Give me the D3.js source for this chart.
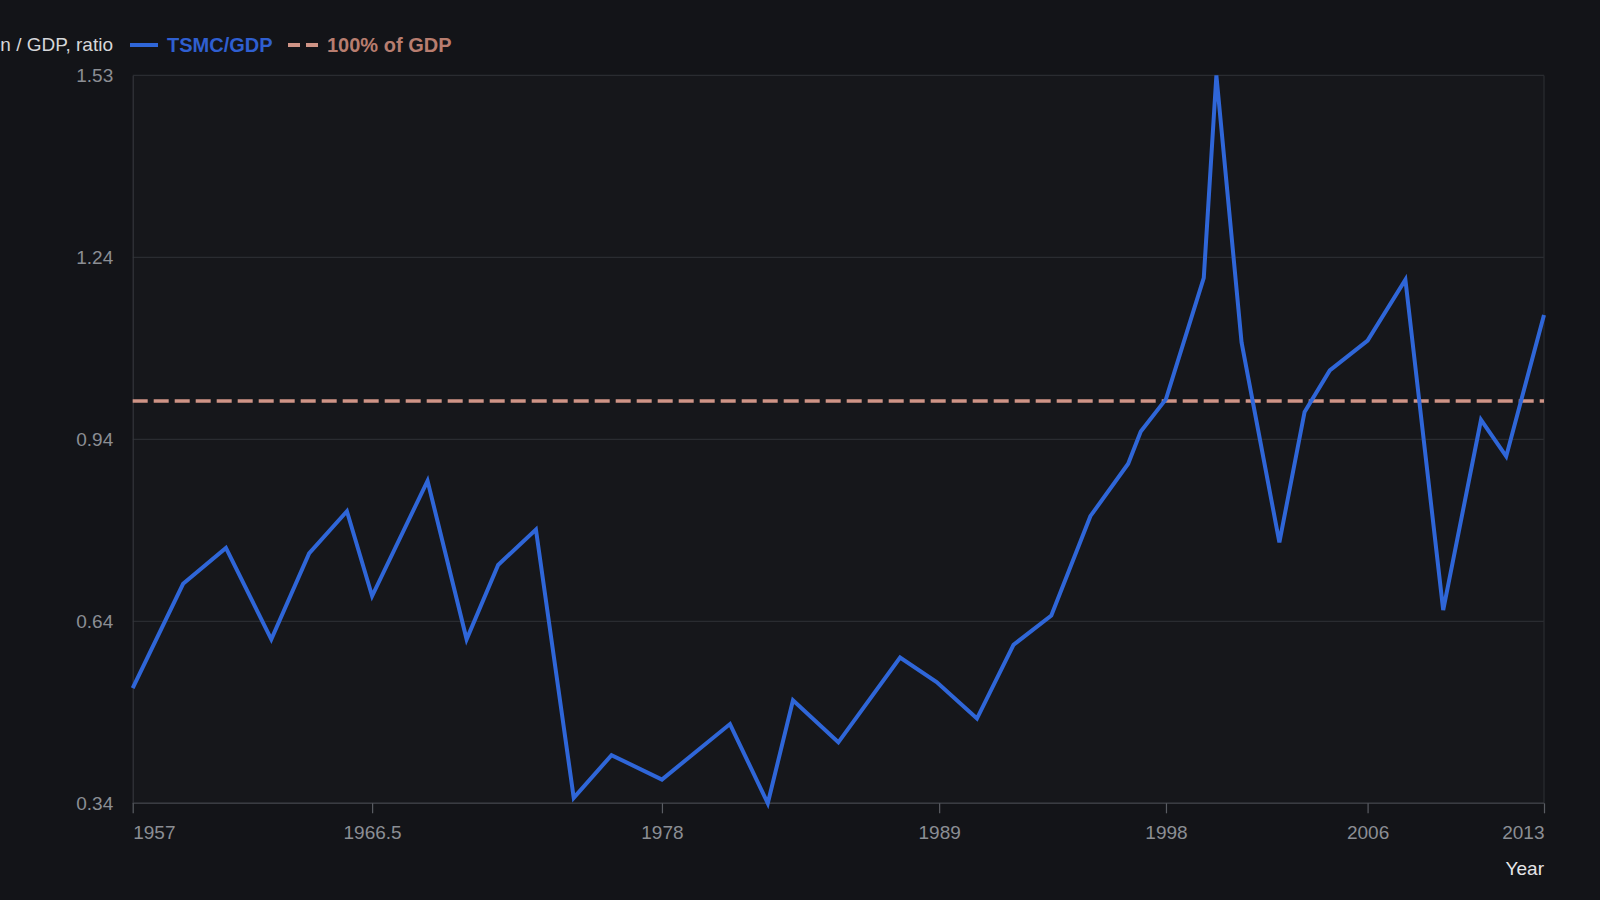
<!DOCTYPE html>
<html>
<head>
<meta charset="utf-8">
<script src="https://cdn.jsdelivr.net/npm/d3@7"></script>
<style>
  html, body { margin: 0; padding: 0; background: #131418; }
  svg { display: block; }
  text { font-family: "Liberation Sans", Arial, Helvetica, sans-serif; }
</style>
</head>
<body>
<svg id="chart" width="1600" height="900"></svg>
<script>
// ---- data ----
const years = [1957, 1959, 1960.7, 1962.5, 1964, 1965.5, 1966.5, 1968.7, 1970.25, 1971.5,
  1973, 1974.5, 1976, 1978, 1980.7, 1982.2, 1983.2, 1985, 1987.45, 1988.9,
  1990.5, 1991.95, 1993.45, 1995, 1996.5, 1997, 1998, 1999.5, 2000, 2001,
  2002.5, 2003.5, 2004.5, 2006, 2007.5, 2009, 2010.5, 2011.5, 2013];
const tsmcGdp = [0.529, 0.700, 0.759, 0.609, 0.750, 0.819, 0.680, 0.869, 0.609, 0.731,
  0.789, 0.349, 0.419, 0.379, 0.470, 0.340, 0.509, 0.440, 0.579, 0.539,
  0.479, 0.600, 0.648, 0.811, 0.897, 0.950, 1.003, 1.202, 1.534, 1.096,
  0.768, 0.982, 1.050, 1.099, 1.199, 0.657, 0.969, 0.909, 1.141];
const referenceLevel = 1.0;
const xTicks = [1957, 1966.5, 1978, 1989, 1998, 2006, 2013];
const yTicks = [0.34, 0.6385, 0.937, 1.2355, 1.534];
const yTickLabels = ["0.34", "0.64", "0.94", "1.24", "1.53"];
const seriesNames = ["TSMC/GDP", "100% of GDP"];
const yTitle = "Market capitalization / GDP, ratio";
const xTitle = "Year";

(function () {
// ---- layout ----
const W = 1600, H = 900;
const mLeft = 132.7, mRight = 1544, mTop = 75.4, mBottom = 803.3;
const svg = d3.select("#chart");

const x = d3.scaleLinear().domain([1957, 2013]).range([mLeft, mRight]);
const y = d3.scaleLinear().domain([0.34, 1.534]).range([mBottom, mTop]);

const gridColor = "#2a2c31";
const tickColor = "#8b8e94";
const blue = "#2f66d8";
const salmon = "#cf9486";

svg.append("rect").attr("width", W).attr("height", H).attr("fill", "#131418");
svg.append("rect").attr("x", mLeft).attr("y", mTop).attr("width", mRight - mLeft).attr("height", mBottom - mTop)
  .attr("fill", "#16171b");

// grid lines
svg.append("g").selectAll("line").data(yTicks).join("line")
  .attr("x1", mLeft).attr("x2", mRight)
  .attr("y1", d => y(d)).attr("y2", d => y(d))
  .attr("stroke", gridColor).attr("stroke-width", 1.2);

// right border
svg.append("line").attr("x1", mRight).attr("x2", mRight).attr("y1", mTop).attr("y2", mBottom)
  .attr("stroke", gridColor).attr("stroke-width", 1.2);

// y axis
const yAxis = d3.axisLeft(y).tickValues(yTicks).tickSize(0).tickPadding(19.5)
  .tickFormat((d, i) => yTickLabels[i]);
const gy = svg.append("g").attr("transform", `translate(${mLeft},0)`).call(yAxis);
gy.select(".domain").attr("stroke", "#34363c").attr("stroke-width", 1.2);
gy.selectAll("text").attr("fill", tickColor).style("font-size", "19px")
  .style("font-family", "'Liberation Sans', Arial, sans-serif");

// x axis
const xAxis = d3.axisBottom(x).tickValues(xTicks).tickSize(10).tickPadding(12)
  .tickFormat(d => String(d));
const gx = svg.append("g").attr("transform", `translate(0,${mBottom})`).call(xAxis);
gx.select(".domain").attr("stroke", "#3a3c42").attr("stroke-width", 1.5)
  .attr("d", `M${mLeft},0H${mRight}`);
gx.selectAll(".tick line").attr("stroke", "#5a5d63").attr("stroke-width", 1.2);
gx.selectAll("text").attr("fill", tickColor).style("font-size", "19px")
  .style("font-family", "'Liberation Sans', Arial, sans-serif")
  .attr("text-anchor", (d, i) => i === 0 ? "start" : (i === xTicks.length - 1 ? "end" : "middle"));

// reference line
svg.append("line")
  .attr("x1", mLeft).attr("x2", mRight)
  .attr("y1", y(referenceLevel)).attr("y2", y(referenceLevel))
  .attr("stroke", salmon).attr("stroke-width", 3.5).attr("stroke-dasharray", "15,6");

// series line
const pts = years.map((yr, i) => [yr, tsmcGdp[i]]);
svg.append("path").datum(pts)
  .attr("d", d3.line().x(d => x(d[0])).y(d => y(d[1])))
  .attr("fill", "none").attr("stroke", blue).attr("stroke-width", 4)
  .attr("stroke-linejoin", "miter").attr("stroke-linecap", "butt");

// y title (top-left, right-aligned)
svg.append("text").attr("x", 113).attr("y", 51).attr("text-anchor", "end")
  .attr("fill", "#d6d7da").style("font-size", "19px").text(yTitle);

// legend
const lg = svg.append("g");
lg.append("line").attr("x1", 130).attr("x2", 158).attr("y1", 45).attr("y2", 45)
  .attr("stroke", blue).attr("stroke-width", 4);
lg.append("text").attr("x", 167).attr("y", 52).attr("fill", "#2f5fd0")
  .style("font-size", "20px").style("font-weight", "bold").text(seriesNames[0]);
lg.append("line").attr("x1", 288).attr("x2", 318).attr("y1", 45).attr("y2", 45)
  .attr("stroke", salmon).attr("stroke-width", 4).attr("stroke-dasharray", "12,6");
lg.append("text").attr("x", 327).attr("y", 52).attr("fill", "#b87d6f")
  .style("font-size", "20px").style("font-weight", "bold").text(seriesNames[1]);

// x title
svg.append("text").attr("x", mRight).attr("y", 875).attr("text-anchor", "end")
  .attr("fill", "#e6e6e8").style("font-size", "19px").text(xTitle);
})();
</script>
</body>
</html>
